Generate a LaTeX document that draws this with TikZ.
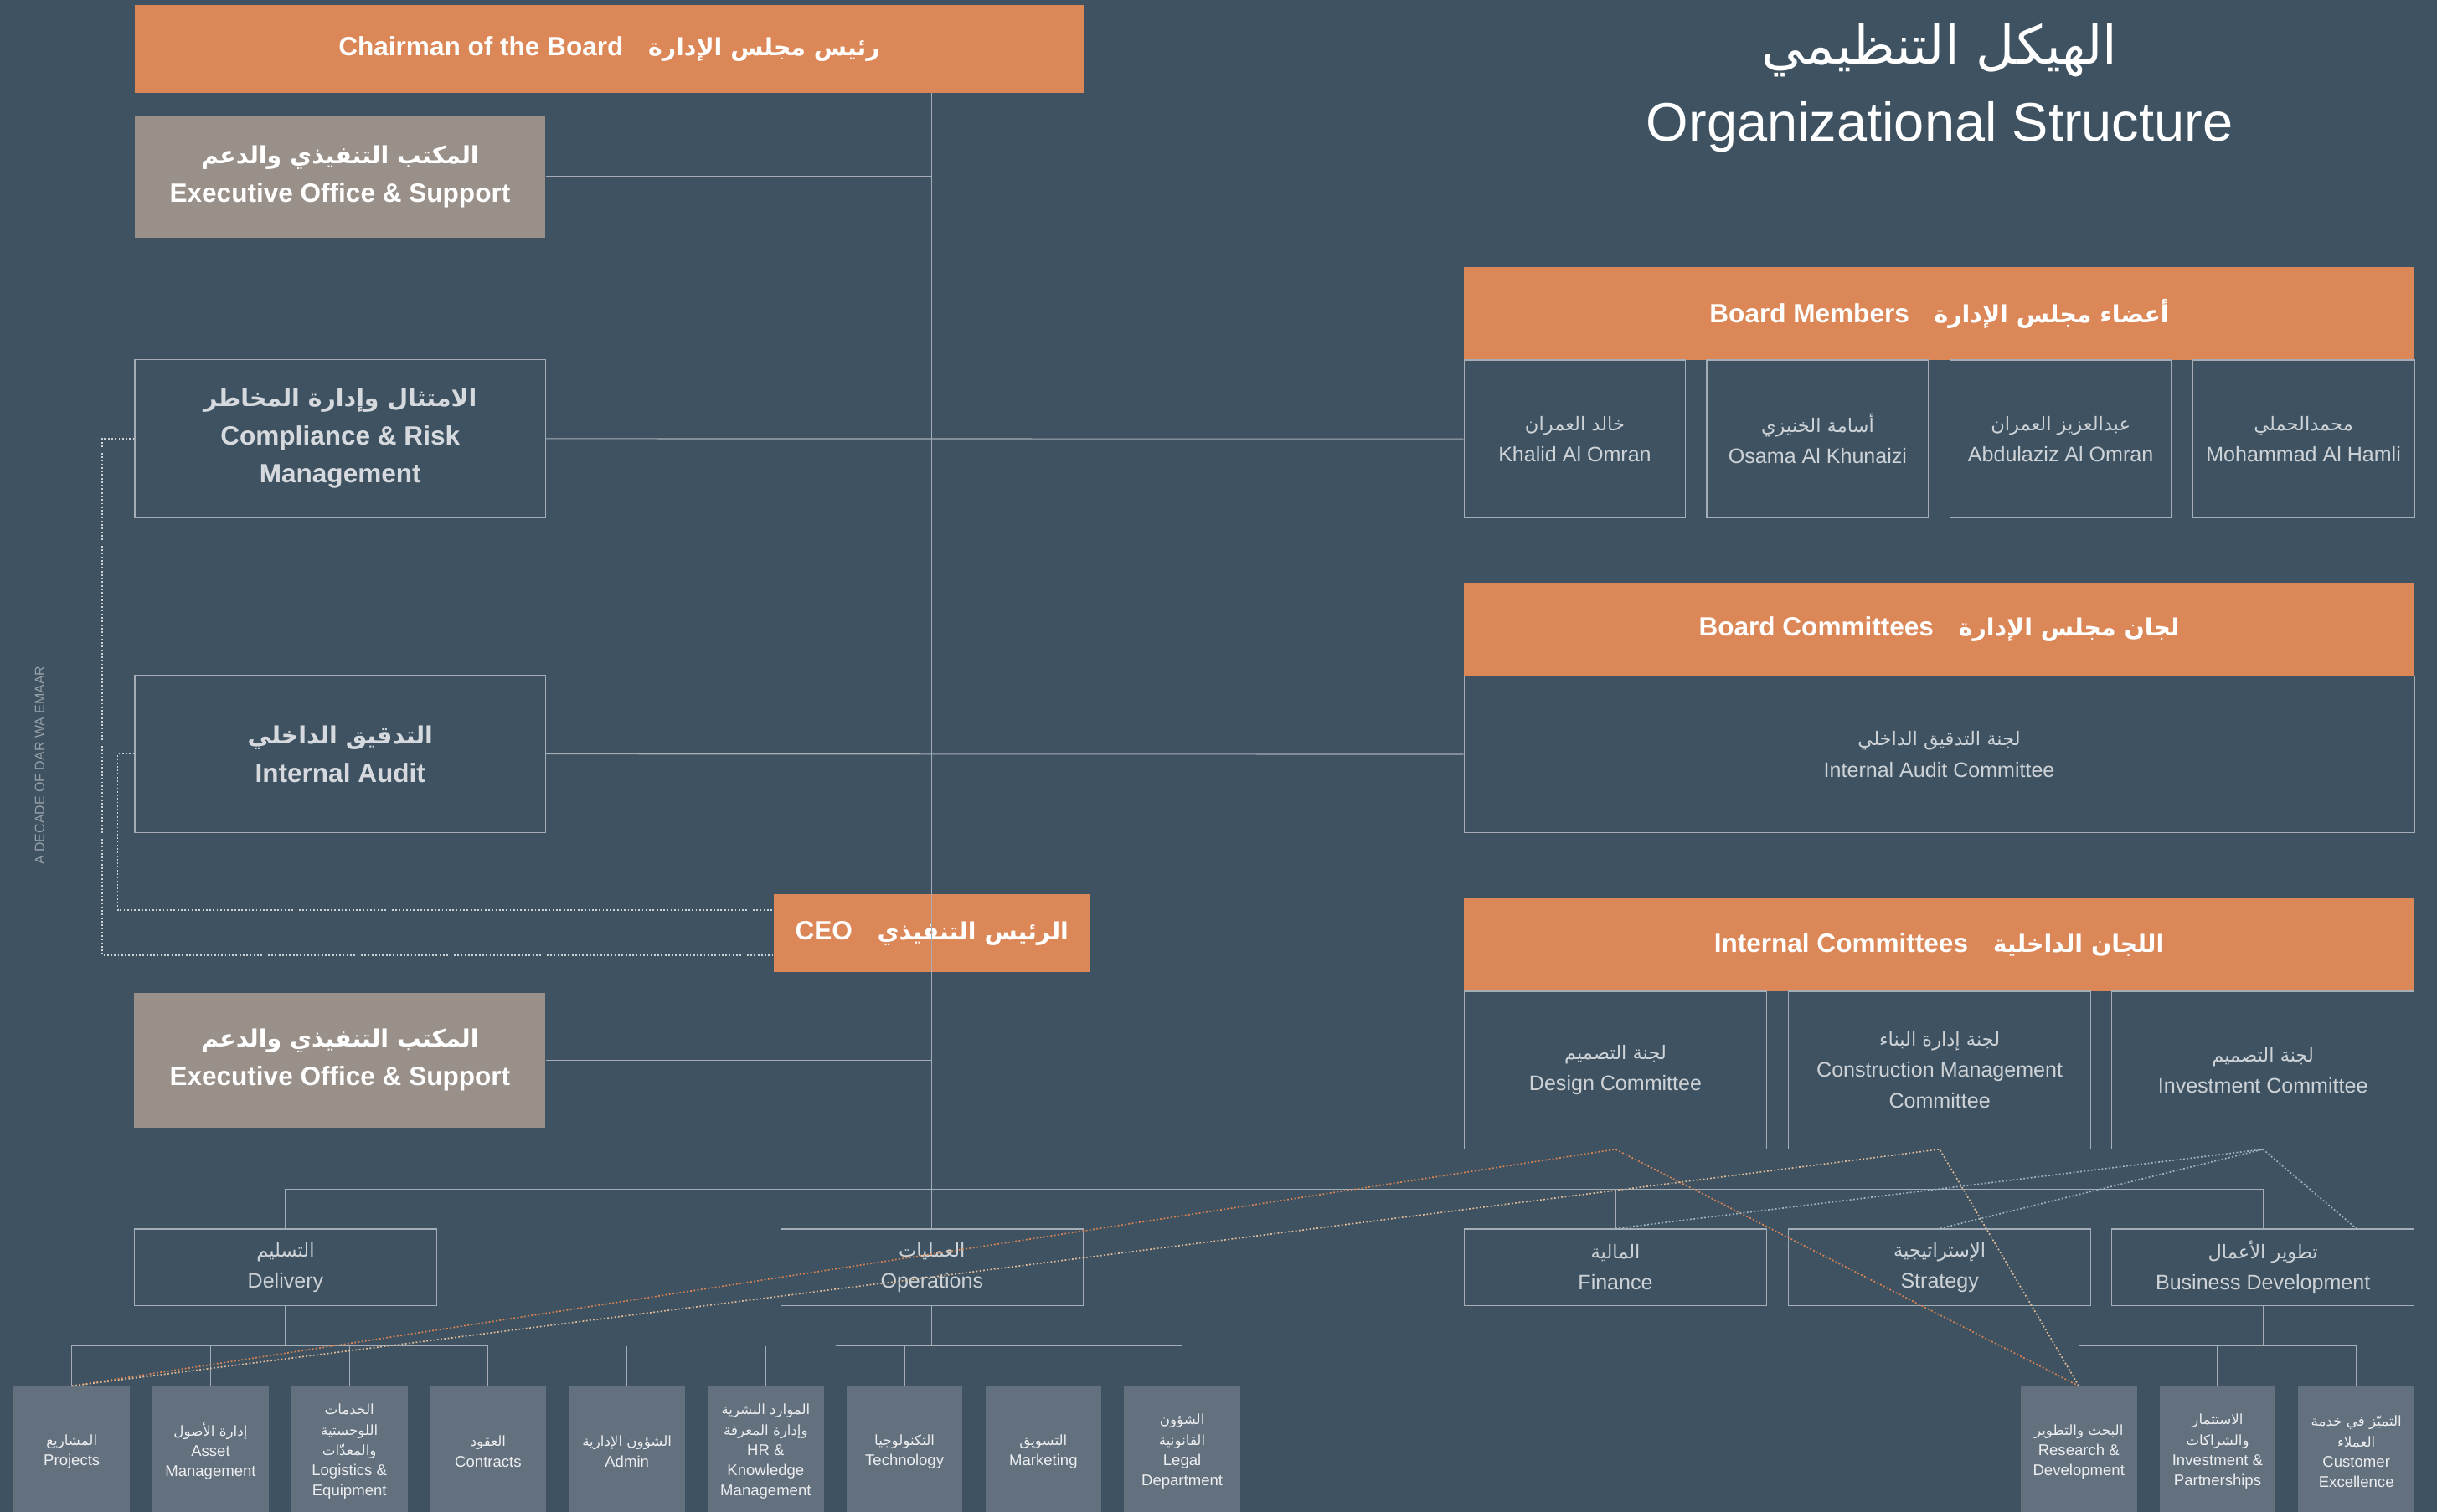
\documentclass[tikz,border=0pt]{standalone}
\usepackage{fontspec}
\setmainfont{Liberation Sans}
\newfontfamily\arabicfont[Script=Arabic,Scale=0.9]{DejaVu Sans}
\TeXXeTstate=1
\newcommand\artext[1]{{\arabicfont\beginR#1\endR}}
\newcommand\tightlines{\lineskiplimit=-20pt\relax}
\definecolor{bgc}{RGB}{62,82,97}
\definecolor{orangec}{RGB}{220,135,87}
\definecolor{taupec}{RGB}{153,144,138}
\definecolor{unitc}{RGB}{99,112,126}
\definecolor{linec}{RGB}{165,174,183}
\definecolor{textc}{RGB}{205,210,215}
\definecolor{boldtextc}{RGB}{214,218,222}
\definecolor{unittextc}{RGB}{236,238,240}
\definecolor{sidec}{RGB}{150,160,168}
\definecolor{dotwhite}{RGB}{205,210,215}
\definecolor{dotorange}{RGB}{220,132,82}
\definecolor{dotbeige}{RGB}{222,186,152}
\definecolor{dotblue}{RGB}{160,180,196}
\tikzset{
  orangebox/.style={fill=orangec, text=white, inner sep=0pt, font=\fontsize{17}{24.5}\selectfont\bfseries},
  taupebox/.style={fill=taupec, text=white, inner sep=0pt, align=center, font=\fontsize{17}{25}\selectfont\bfseries\tightlines},
  outlinebox/.style={draw=linec, line width=0.6pt, text=textc, inner sep=0pt, align=center, font=\fontsize{13.5}{20}\selectfont\tightlines},
  boldframe/.style={outlinebox, text=boldtextc, font=\fontsize{17}{24.5}\selectfont\bfseries\tightlines},
  midbox/.style={outlinebox, minimum width=194.6pt, minimum height=49.4pt},
  unitbox/.style={fill=unitc, text=unittextc, inner sep=0pt, align=center, minimum width=74.7pt, minimum height=84pt, font=\fontsize{10}{13}\selectfont\tightlines},
  conn/.style={draw=linec, line width=0.6pt},
  dotconn/.style={line width=0.9pt, dash pattern=on 1pt off 1.3pt},
}
\begin{document}
\begin{tikzpicture}[x=1pt, y=-1pt]
    \fill[bgc] (0,0) rectangle (1568,973);
    \useasboundingbox (0,0) rectangle (1568,973);

    \node[orangebox, minimum width=610pt, minimum height=56.6pt] (chair) at (392,31.3) {Chairman of the Board\hspace{16pt}\artext{رئيس مجلس الإدارة}};
    \node[taupebox, minimum width=264.5pt, minimum height=78.4pt] (execA) at (218.75,113.6) {\artext{المكتب التنفيذي والدعم}\\Executive Office \& Support};
    \node[boldframe, minimum width=264.3pt, minimum height=101.5pt] (comply) at (218.9,282.3) {\artext{الامتثال وإدارة المخاطر}\\Compliance \& Risk\\Management};
    \node[boldframe, minimum width=264.3pt, minimum height=101.4pt] (audit) at (218.9,485.3) {\artext{التدقيق الداخلي}\\Internal Audit};
    \node[orangebox, minimum width=203.8pt, minimum height=50pt] (ceo) at (599.6,600.5) {CEO\hspace{16pt}\artext{الرئيس التنفيذي}};
    \node[taupebox, minimum width=264.6pt, minimum height=86.5pt] (execB) at (218.7,682.3) {\artext{المكتب التنفيذي والدعم}\\Executive Office \& Support};

    \node[anchor=base, text=white, font=\fontsize{38}{44}\selectfont] (titlear) at (1248,41.3) {\artext{الهيكل التنظيمي}};
    \node[anchor=base, text=white, font=\fontsize{35}{40}\selectfont] (titleen) at (1248,90.7) {Organizational Structure};
    \node[rotate=90, text=sidec, font=\fontsize{8.6}{10}\selectfont] (tagline) at (25.5,492.6) {A DECADE OF DAR WA EMAAR};

    \node[orangebox, minimum width=611.4pt, minimum height=59.7pt] (members) at (1247.7,201.8) {Board Members\hspace{16pt}\artext{أعضاء مجلس الإدارة}};
    \node[outlinebox, minimum width=142.7pt, minimum height=101.5pt] (khalid) at (1013.25,282.45) {\artext{خالد العمران}\\Khalid Al Omran};
    \node[outlinebox, minimum width=142.7pt, minimum height=101.5pt] (osama) at (1169.5,282.45) {\artext{أسامة الخنيزي}\\Osama Al Khunaizi};
    \node[outlinebox, minimum width=142.7pt, minimum height=101.5pt] (abdulaziz) at (1325.85,282.45) {\artext{عبدالعزيز العمران}\\Abdulaziz Al Omran};
    \node[outlinebox, minimum width=142.7pt, minimum height=101.5pt] (mohammad) at (1482.1,282.45) {\artext{محمدالحملي}\\Mohammad Al Hamli};

    \node[orangebox, minimum width=611.4pt, minimum height=60pt] (boardcom) at (1247.7,405) {Board Committees\hspace{16pt}\artext{لجان مجلس الإدارة}};
    \node[outlinebox, minimum width=611.4pt, minimum height=101pt] (auditcom) at (1247.7,485.5) {\artext{لجنة التدقيق الداخلي}\\Internal Audit Committee};

    \node[orangebox, minimum width=611.4pt, minimum height=60pt] (intcom) at (1247.7,608) {Internal Committees\hspace{16pt}\artext{اللجان الداخلية}};
    \node[outlinebox, minimum width=194.6pt, minimum height=101.4pt] (design) at (1039.4,688.7) {\artext{لجنة التصميم}\\Design Committee};
    \node[outlinebox, minimum width=194.6pt, minimum height=101.4pt] (construct) at (1248,688.7) {\artext{لجنة إدارة البناء}\\Construction Management\\Committee};
    \node[outlinebox, minimum width=194.6pt, minimum height=101.4pt] (investcom) at (1456,688.7) {\artext{لجنة التصميم}\\Investment Committee};

    \node[midbox] (delivery) at (183.7,815.7) {\artext{التسليم}\\Delivery};
    \node[midbox] (ops) at (599.6,815.7) {\artext{العمليات}\\Operations};
    \node[midbox] (finance) at (1039.4,815.7) {\artext{المالية}\\Finance};
    \node[midbox] (strategy) at (1248,815.7) {\artext{الإستراتيجية}\\Strategy};
    \node[midbox] (bizdev) at (1456,815.7) {\artext{تطوير الأعمال}\\Business Development};

    \node[unitbox] (projects) at (46.2,934.2) {\artext{المشاريع}\\Projects};
    \node[unitbox] (assets) at (135.5,934.2) {\artext{إدارة الأصول}\\Asset\\Management};
    \node[unitbox] (logistics) at (224.8,934.2) {\artext{الخدمات}\\\artext{اللوجستية}\\\artext{والمعدّات}\\Logistics \&\\Equipment};
    \node[unitbox] (contracts) at (314.1,934.2) {\artext{العقود}\\Contracts};
    \node[unitbox] (admin) at (403.4,934.2) {\artext{الشؤون الإدارية}\\Admin};
    \node[unitbox] (hr) at (492.7,934.2) {\artext{الموارد البشرية}\\\artext{وإدارة المعرفة}\\HR \&\\Knowledge\\Management};
    \node[unitbox] (tech) at (582,934.2) {\artext{التكنولوجيا}\\Technology};
    \node[unitbox] (marketing) at (671.3,934.2) {\artext{التسويق}\\Marketing};
    \node[unitbox] (legal) at (760.6,934.2) {\artext{الشؤون}\\\artext{القانونية}\\Legal\\Department};
    \node[unitbox] (research) at (1337.5,934.2) {\artext{البحث والتطوير}\\Research \&\\Development};
    \node[unitbox] (invest) at (1426.8,934.2) {\artext{الاستثمار}\\\artext{والشراكات}\\Investment \&\\Partnerships};
    \node[unitbox] (custexc) at (1516.1,934.2) {\artext{التميّز في خدمة}\\\artext{العملاء}\\Customer\\Excellence};

    \coordinate (busA) at (0,765.3);
    \coordinate (busB) at (0,866.4);
    \coordinate (opsleft) at (537.5,866.4);

    \draw[conn] (ceo |- chair.south) -- (ops.north);
    \draw[conn] (execA.east) -- (execA.east -| ceo);
    \draw[conn] (comply.east) -- (khalid.west);
    \draw[conn] (audit.east) -- (auditcom.west);
    \draw[conn] (execB.east) -- (execB.east -| ceo);
    \draw[conn] (delivery.north) |- (busA -| bizdev) -- (bizdev.north);
    \draw[conn] (finance.north) -- (finance |- busA);
    \draw[conn] (strategy.north) -- (strategy |- busA);
    \draw[conn] (delivery.south) -- (delivery |- busB);
    \draw[conn] (projects.north) |- (busB -| contracts) -- (contracts.north);
    \draw[conn] (assets.north) -- (assets |- busB);
    \draw[conn] (logistics.north) -- (logistics |- busB);
    \draw[conn] (admin.north) -- (admin |- busB);
    \draw[conn] (hr.north) -- (hr |- busB);
    \draw[conn] (ops.south) -- (ops |- busB);
    \draw[conn] (opsleft) -- (busB -| legal) -- (legal.north);
    \draw[conn] (tech.north) -- (tech |- busB);
    \draw[conn] (marketing.north) -- (marketing |- busB);
    \draw[conn] (bizdev.south) -- (bizdev |- busB);
    \draw[conn] (research.north) |- (busB -| custexc) -- (custexc.north);
    \draw[conn] (invest.north) -- (invest |- busB);

    \draw[dotconn, draw=dotwhite] (comply.west) -- ++(-20.8,0) |- ([yshift=-14.3pt]ceo.west);
    \draw[dotconn, draw=dotwhite] (audit.west) -- ++(-10.7,0) |- ([yshift=14.7pt]ceo.west);
    \draw[dotconn, draw=dotorange] (projects.north) -- (design.south) -- (research.north);
    \draw[dotconn, draw=dotbeige] (projects.north) -- (construct.south) -- (research.north);
    \draw[dotconn, draw=dotblue] (finance.north) -- (investcom.south) -- (strategy.north);
    \draw[dotconn, draw=dotblue] (investcom.south) -- (custexc |- bizdev.north);
\end{tikzpicture}
\end{document}
